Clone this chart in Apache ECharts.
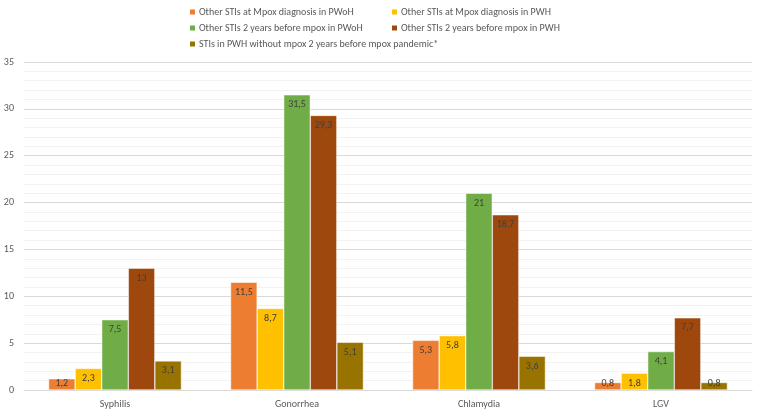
<!DOCTYPE html>
<html><head><meta charset="utf-8">
<script src="https://cdn.jsdelivr.net/npm/echarts@6/dist/echarts.min.js"></script>
<style>html,body{margin:0;padding:0;background:#fff}#c{width:764px;height:413px}</style>
</head><body><div id="c"></div>
<script>
const categories = ['Syphilis', 'Gonorrhea', 'Chlamydia', 'LGV'];
const seriesNames = [
  'Other STIs at Mpox diagnosis in PWoH',
  'Other STIs at Mpox diagnosis in PWH',
  'Other STIs 2 years before mpox in PWoH',
  'Other STIs 2 years before mpox in PWH',
  'STIs in PWH without mpox 2 years before mpox pandemic*'
];
const pwohAtDiagnosis = [1.2, 11.5, 5.3, 0.8];
const pwhAtDiagnosis = [2.3, 8.7, 5.8, 1.8];
const pwoh2YearsBefore = [7.5, 31.5, 21, 4.1];
const pwh2YearsBefore = [13, 29.3, 18.7, 7.7];
const pwhWithoutMpox = [3.1, 5.1, 3.6, 0.8];
const colors = ['#ED7D31', '#FFC000', '#70AD47', '#9E480E', '#997300'];
const yTicks = [0, 5, 10, 15, 20, 25, 30, 35];

const allData = [pwohAtDiagnosis, pwhAtDiagnosis, pwoh2YearsBefore, pwh2YearsBefore, pwhWithoutMpox];
const font = 'Calibri, Carlito, "Liberation Sans", "DejaVu Sans", sans-serif';
const chart = echarts.init(document.getElementById('c'));
chart.setOption({
  animation: false,
  color: colors,
  textStyle: { fontFamily: font },
  legend: [
    { left: 183, top: 2, orient: 'vertical', itemWidth: 7, itemHeight: 7, itemGap: 6, icon: 'rect',
      data: [seriesNames[0], seriesNames[2], seriesNames[4]],
      textStyle: { fontSize: 10, color: '#595959', fontFamily: font, padding: [0,0,0,-2] } },
    { left: 385, top: 2, orient: 'vertical', itemWidth: 7, itemHeight: 7, itemGap: 6, icon: 'rect',
      data: [seriesNames[1], seriesNames[3]],
      textStyle: { fontSize: 10, color: '#595959', fontFamily: font, padding: [0,0,0,-2] } }
  ],
  grid: { left: 24, right: 12, top: 62, bottom: 23, containLabel: false },
  xAxis: {
    type: 'category', data: categories,
    axisLine: { lineStyle: { color: '#D9D9D9' } },
    axisTick: { show: false },
    axisLabel: { color: '#595959', fontSize: 10, margin: 9 }
  },
  yAxis: {
    type: 'value', min: yTicks[0], max: yTicks[yTicks.length - 1], interval: 5,
    axisLine: { show: false }, axisTick: { show: false },
    axisLabel: { color: '#595959', fontSize: 10, margin: 10 },
    splitLine: { lineStyle: { color: '#D9D9D9' } },
    minorTick: { show: false, splitNumber: 5 },
    minorSplitLine: { show: true, lineStyle: { color: '#F2F2F2' } }
  },
  series: seriesNames.map((name, i) => ({
    name, type: 'bar',
    data: allData[i].map(v => v < 1.6
      ? { value: v, label: { position: 'insideBottom', distance: 2 } }
      : v),
    barGap: '0%', barCategoryGap: '27%',
    itemStyle: { color: colors[i], borderColor: '#fff', borderWidth: 0.5 },
    label: {
      show: true, position: 'insideTop', distance: 5,
      color: '#404040', fontSize: 10, fontFamily: font,
      formatter: p => String(p.value).replace('.', ',')
    }
  }))
});
</script></body></html>
